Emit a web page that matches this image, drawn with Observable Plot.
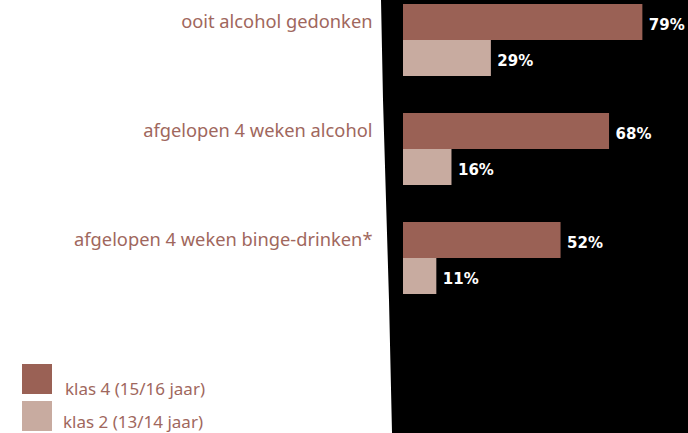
<!DOCTYPE html>
<html>
<head>
<meta charset="utf-8">
<script src="https://cdn.jsdelivr.net/npm/d3@7"></script>
<script src="https://cdn.jsdelivr.net/npm/@observablehq/plot@0.6"></script>
<style>
  html, body { margin: 0; padding: 0; background: #fff; }
  #wrap { position: relative; width: 688px; height: 433px; overflow: hidden; }
  #bg { position: absolute; inset: 0; background: #000;
        clip-path: polygon(381px 0, 688px 0, 688px 433px, 392px 433px, 389px 300px, 386px 200px, 383px 100px); }
  #chart { position: absolute; left: 0; top: 0; }
  #legend { position: absolute; left: 22px; top: 364px; font-family: "Noto Sans", sans-serif; font-size: 17px; line-height: 22px; color: #a0675d; }
  .row { position: relative; height: 37px; }
  .sw { position: absolute; left: 0; top: 0; width: 30px; height: 30px; }
  .lab { position: absolute; white-space: nowrap; }
</style>
</head>
<body>
<div id="wrap"><div id="bg"></div><div id="chart"></div><div id="legend"></div></div>
<script>
const categories = ["ooit alcohol gedonken", "afgelopen 4 weken alcohol", "afgelopen 4 weken binge-drinken*"];
const series = ["klas 4 (15/16 jaar)", "klas 2 (13/14 jaar)"];
const klas4 = [79, 68, 52];
const klas2 = [29, 16, 11];
const colors = ["#9a6155", "#c8aba0"];
const textColor = "#a0675d";

const data = [];
categories.forEach((c, i) => {
  data.push({cat: c, series: series[0], value: klas4[i]});
  data.push({cat: c, series: series[1], value: klas2[i]});
});

const plot = Plot.plot({
  width: 688,
  height: 433,
  marginTop: 3,
  marginBottom: 139,
  marginLeft: 0,
  marginRight: 0,
  style: {background: "transparent", overflow: "visible"},
  x: {domain: [0, 100], range: [403, 706], axis: null},
  fy: {domain: categories, range: [3, 294], paddingInner: 1/3, paddingOuter: 0, axis: null},
  y: {domain: series, padding: 0, axis: null},
  color: {domain: series, range: colors},
  marks: [
    Plot.barX(data, {fy: "cat", y: "series", x: "value", fill: "series"}),
    Plot.text(data, {fy: "cat", y: "series", x: "value", text: d => d.value + "%",
      dx: 6, dy: 3, textAnchor: "start", fill: "white", fontWeight: "bold",
      fontSize: 15, fontFamily: "DejaVu Sans"}),
    Plot.text(categories, {fy: d => d, y: () => series[0], x: () => 0, text: d => d,
      dx: -31, textAnchor: "end", fill: textColor, fontSize: 18.3, fontFamily: "Noto Sans"})
  ]
});
document.getElementById("chart").appendChild(plot);

const leg = document.getElementById("legend");
const labOffsets = [[43, 14], [41, 10]];
series.forEach((s, i) => {
  const row = document.createElement("div");
  row.className = "row";
  const sw = document.createElement("div");
  sw.className = "sw";
  sw.style.background = colors[i];
  const lab = document.createElement("div");
  lab.className = "lab";
  lab.style.left = labOffsets[i][0] + "px";
  lab.style.top = labOffsets[i][1] + "px";
  lab.textContent = s;
  row.appendChild(sw);
  row.appendChild(lab);
  leg.appendChild(row);
});
</script>
</body>
</html>
